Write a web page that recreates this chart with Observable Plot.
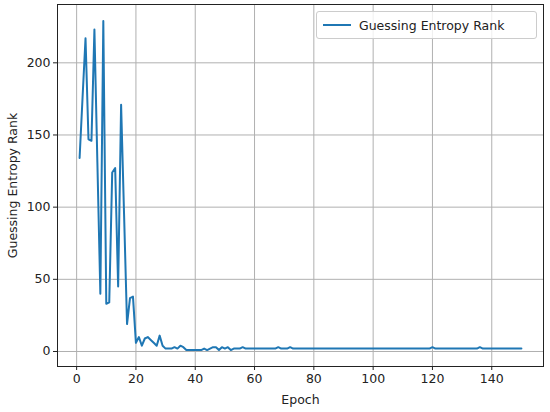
<!DOCTYPE html>
<html><head><meta charset="utf-8">
<script src="https://cdn.jsdelivr.net/npm/d3@7"></script>
<script src="https://cdn.jsdelivr.net/npm/@observablehq/plot@0.6"></script>
<style>
body{margin:0;background:#fff;}
#wrap{position:relative;width:550px;height:412px;font-family:"DejaVu Sans",sans-serif;}
#legend{position:absolute;left:316px;top:11px;width:221px;height:28px;box-sizing:border-box;border:1px solid #cccccc;border-radius:3px;background:rgba(255,255,255,0.8);display:flex;align-items:center;font-size:12.5px;color:#222;}
#legend svg{margin-left:6px;margin-right:8px;}
</style></head><body>
<div id="wrap"><div id="legend"><svg width="28" height="4"><line x1="0" y1="2" x2="28" y2="2" stroke="#1f77b4" stroke-width="2"/></svg><span>Guessing Entropy Rank</span></div></div>
<script>
const seriesName = "Guessing Entropy Rank";
const xTicks = [0, 20, 40, 60, 80, 100, 120, 140];
const yTicks = [0, 50, 100, 150, 200];
const rank = [
  134,176,217,147,146,223,131,40,229,33,
  34,124,127,45,171,95,19,37,38,6,
  10,4,9,10,8,6,4,11,4,2,
  2,2,3,2,4,3,1,1,1,1,
  1,1,2,1,2,3,3,1,3,2,
  3,1,2,2,2,3,2,2,2,2,
  2,2,2,2,2,2,2,3,2,2,
  2,3,2,2,2,2,2,2,2,2,
  2,2,2,2,2,2,2,2,2,2,
  2,2,2,2,2,2,2,2,2,2,
  2,2,2,2,2,2,2,2,2,2,
  2,2,2,2,2,2,2,2,2,3,
  2,2,2,2,2,2,2,2,2,2,
  2,2,2,2,2,3,2,2,2,2,
  2,2,2,2,2,2,2,2,2,2
];
const data = rank.map((v, i) => ({epoch: i + 1, rank: v}));
const chart = Plot.plot({
  width: 550, height: 412,
  marginLeft: 57, marginRight: 7, marginTop: 4, marginBottom: 46,
  style: {fontFamily: "DejaVu Sans", fontSize: "12px", color: "#222", background: "#fff"},
  x: {domain: [-6.45, 157.45]},
  y: {domain: [-10.4, 240.4]},
  marks: [
    Plot.gridX(xTicks, {stroke: "#b0b0b0", strokeOpacity: 1, strokeWidth: 1}),
    Plot.gridY(yTicks, {stroke: "#b0b0b0", strokeOpacity: 1, strokeWidth: 1}),
    Plot.line(data, {x: "epoch", y: "rank", stroke: "#1f77b4", strokeWidth: 2}),
    Plot.frame({stroke: "#222", strokeWidth: 1}),
    Plot.axisX({ticks: xTicks, tickSize: 4, tickPadding: 4, label: null, fontSize: 12.5}),
    Plot.axisY({ticks: yTicks, tickSize: 4, tickPadding: 3, label: null, fontSize: 12.5}),
    Plot.text(["Epoch"], {frameAnchor: "bottom", dy: 37, fontSize: 12.5}),
    Plot.text([seriesName], {frameAnchor: "left", dx: -45, rotate: -90, textAnchor: "middle", fontSize: 12.5})
  ]
});
document.getElementById("wrap").prepend(chart);
</script>
</body></html>
